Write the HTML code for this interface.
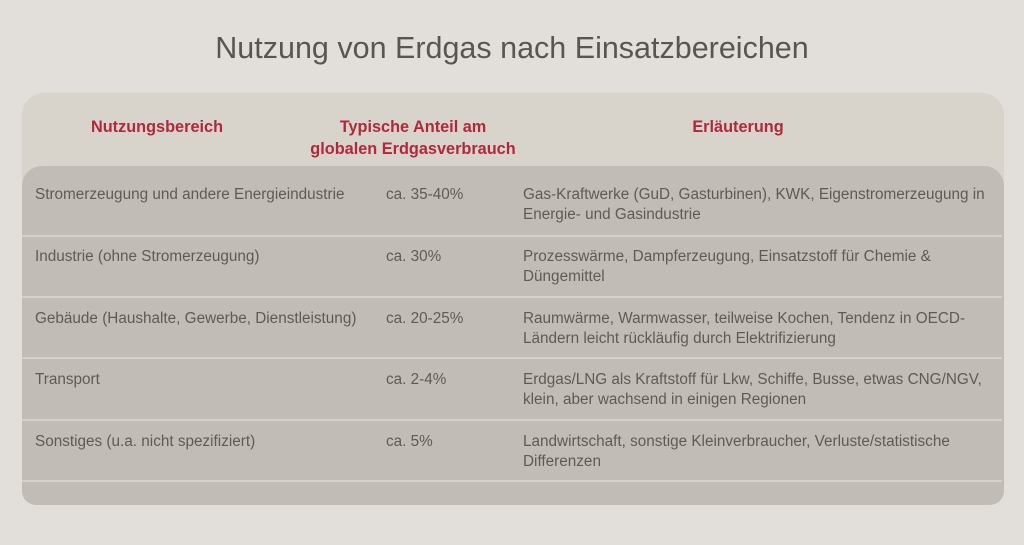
<!DOCTYPE html>
<html><head><meta charset="utf-8"><style>
body{margin:0;width:1024px;height:545px;background:#e2dfda;font-family:"Liberation Sans",sans-serif;position:relative;overflow:hidden}
.t{position:absolute;left:0;width:1024px;top:31px;text-align:center;font-size:30.5px;color:#5a5550}
.panel{position:absolute;left:22px;top:93px;width:982px;height:412px;background:#d8d4cc;border-radius:22px}
.body{position:absolute;left:22px;top:166px;width:982px;height:339px;background:#c1bdb6;border-radius:20px 20px 14px 14px}
.h{position:absolute;color:#b0283a;font-weight:bold;font-size:16.3px;text-align:center;line-height:22px}
.c{position:absolute;color:#5f5a55;font-size:15.3px;line-height:20px}
.l{position:absolute;left:22px;width:980px;height:2px;background:#d6d2cb}
</style></head><body>
<div class="t">Nutzung von Erdgas nach Einsatzbereichen</div>
<div class="panel"></div>
<div class="body"></div>
<div class="h" style="left:37px;width:240px;top:116px">Nutzungsbereich</div>
<div class="h" style="left:283px;width:260px;top:116px">Typische Anteil am<br>globalen Erdgasverbrauch</div>
<div class="h" style="left:618px;width:240px;top:116px">Erläuterung</div>
<div class="l" style="top:235px"></div>
<div class="l" style="top:296px"></div>
<div class="l" style="top:357px"></div>
<div class="l" style="top:419px"></div>
<div class="l" style="top:480px"></div>

<div class="c" style="left:35px;top:185px">Stromerzeugung und andere Energieindustrie</div>
<div class="c" style="left:386px;top:185px">ca. 35-40%</div>
<div class="c" style="left:523px;top:185px;width:480px">Gas-Kraftwerke (GuD, Gasturbinen), KWK, Eigenstromerzeugung in<br>Energie- und Gasindustrie</div>

<div class="c" style="left:35px;top:247px">Industrie (ohne Stromerzeugung)</div>
<div class="c" style="left:386px;top:247px">ca. 30%</div>
<div class="c" style="left:523px;top:247px;width:480px">Prozesswärme, Dampferzeugung, Einsatzstoff für Chemie &amp;<br>Düngemittel</div>

<div class="c" style="left:35px;top:309px">Gebäude (Haushalte, Gewerbe, Dienstleistung)</div>
<div class="c" style="left:386px;top:309px">ca. 20-25%</div>
<div class="c" style="left:523px;top:309px;width:480px">Raumwärme, Warmwasser, teilweise Kochen, Tendenz in OECD-<br>Ländern leicht rückläufig durch Elektrifizierung</div>

<div class="c" style="left:35px;top:370px">Transport</div>
<div class="c" style="left:386px;top:370px">ca. 2-4%</div>
<div class="c" style="left:523px;top:370px;width:480px">Erdgas/LNG als Kraftstoff für Lkw, Schiffe, Busse, etwas CNG/NGV,<br>klein, aber wachsend in einigen Regionen</div>

<div class="c" style="left:35px;top:432px">Sonstiges (u.a. nicht spezifiziert)</div>
<div class="c" style="left:386px;top:432px">ca. 5%</div>
<div class="c" style="left:523px;top:432px;width:480px">Landwirtschaft, sonstige Kleinverbraucher, Verluste/statistische<br>Differenzen</div>
</body></html>
